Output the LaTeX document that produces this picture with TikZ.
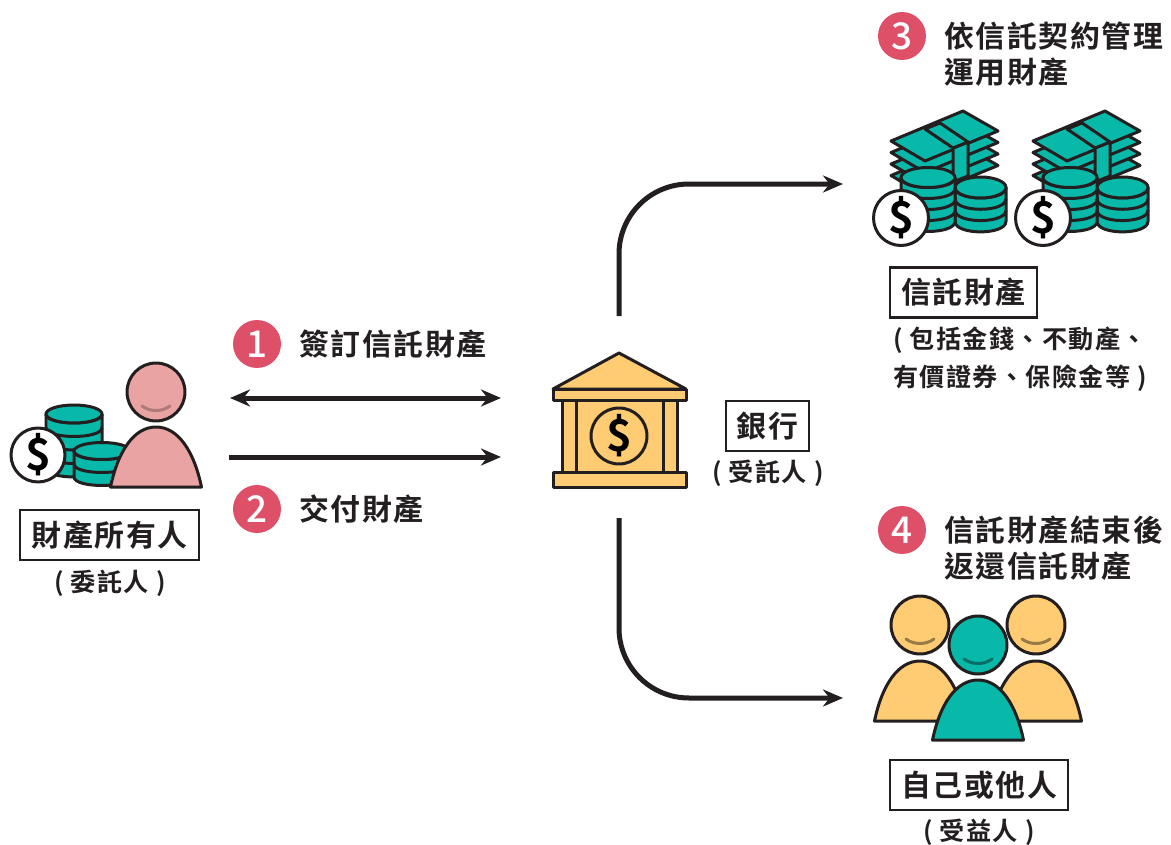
\documentclass[tikz,border=0pt]{standalone}
\usepackage{fontspec}
\setmainfont{Noto Sans CJK TC Bold}[LetterSpace=5.5]
\newfontfamily\digitfont{Noto Sans CJK TC Medium}
\newfontfamily\dollarfont{Noto Sans CJK TC Bold}
\usetikzlibrary{arrows.meta}
\definecolor{inkline}{HTML}{231F20}
\definecolor{teal}{HTML}{08B8A8}
\definecolor{gold}{HTML}{FFCB73}
\definecolor{pinkskin}{HTML}{EAA3A3}
\definecolor{stepred}{HTML}{DE5068}
\tikzset{
	icon/.style={draw=inkline, line width=.06cm, line join=round},
	flow/.style={draw=inkline, line width=.1cm, -{Stealth[length=.4cm,width=.34cm]}},
	stepdot/.style={circle, fill=stepred, minimum size=.96cm, inner sep=0pt, text=white, font=\digitfont\fontsize{21}{25}\selectfont},
	titletext/.style={align=left, anchor=west, inner sep=0pt, text=inkline, font=\fontsize{17}{20.4}\selectfont},
	namebox/.style={draw=inkline, line width=.055cm, inner sep=0pt, minimum height=1cm, text=inkline, font=\fontsize{17}{20.4}\selectfont},
	subtext/.style={align=left, inner sep=0pt, text=inkline, font=\fontsize{14.3}{21.5}\selectfont},
	coinmark/.style={inner sep=0pt, text=black, font=\dollarfont\fontsize{25}{30}\selectfont}
}
% #1 x, #2 y of the top disc, #3 rx, #4 ry, #5 band step, #6 last band
\newcommand{\coinstack}[6]{
	\begin{scope}[shift={(#1,#2)}]
	\draw [icon, fill=teal] (-#3,0) -- (-#3,#5*#6) .. controls (-#3,#5*#6+1.33*#4) and (#3,#5*#6+1.33*#4) .. (#3,#5*#6) -- (#3,0) -- cycle;
	\foreach \band in {1,...,#6} {
		\draw [icon] (-#3,#5*\band-#5) .. controls (-#3,#5*\band-#5+1.33*#4) and (#3,#5*\band-#5+1.33*#4) .. (#3,#5*\band-#5);
	}
	\draw [icon, fill=teal] (0,0) ellipse [x radius=#3*.02cm, y radius=#4*.02cm];
	\end{scope}
}
% #1 name, #2 x, #3 y, #4 radius
\newcommand{\dollarcoin}[4]{
	\draw [icon, fill=white] (#2,#3) circle [radius=#4*.02cm];
	\node [coinmark] (#1) at (#2,#3) {\$};
}
% #1 x of the head, #2 y of the head, #3 fill, #4 smile colour, #5 y of the base
\newcommand{\person}[5]{
	\draw [icon, fill=#3] (#1-45.5,#5) .. controls (#1-38,#5-36) and (#1-22,#5-60) .. (#1,#5-60) .. controls (#1+22,#5-60) and (#1+38,#5-36) .. (#1+45.5,#5) -- cycle;
	\draw [icon, fill=#3] (#1,#2) circle [radius=.58cm];
	\draw [draw=#4, line width=.06cm, line cap=round] (#1-14,#2+14) .. controls (#1-6,#2+20) and (#1+6,#2+20) .. (#1+14,#2+14);
}
% #1 shift in x
\newcommand{\moneypile}[1]{
	\begin{scope}[shift={(#1,0)}]
	\foreach \layer in {34.5,23,11.5,0} {
		\draw [icon, fill=teal] (891,141+\layer) -- (963,111+\layer) -- (998,131+\layer) -- (925,161+\layer) -- cycle;
	}
	\draw [icon, fill=teal] (953,148) -- (968,142) -- (968,176) -- (953,182) -- cycle;
	\draw [icon, fill=teal] (925,129) -- (940,123) -- (968,142) -- (953,148) -- cycle;
	\coinstack{980.5}{187.5}{25.5}{10.5}{11.3}{3}
	\coinstack{928}{177.5}{27}{10}{11}{4}
	\end{scope}
}
\begin{document}
\begin{tikzpicture}[x=.02cm, y=-.02cm]
	\useasboundingbox (0,0) rectangle (1171,845);

	% owner
	\coinstack{74}{414}{28}{9}{13.5}{4}
	\coinstack{102}{451}{28}{8.5}{13}{2}
	\dollarcoin{ownerCoin}{38}{455}{27}
	\person{156}{392}{pinkskin}{pinkskin!75!black}{487}
	\node [namebox, minimum width=3.58cm] (ownerBox) at (109.5,535) {財產所有人};
	\node [subtext] (ownerSub) at (110,583) {( 委託人 )};

	% bank
	\draw [icon, fill=gold] (553,389) -- (619,353) -- (686,389) -- cycle;
	\draw [icon, fill=gold] (576,400) rectangle (663,472);
	\draw [icon, fill=gold] (562,400) rectangle (576,472);
	\draw [icon, fill=gold] (663,400) rectangle (677,472);
	\draw [icon, fill=gold] (553,389) rectangle (686,400);
	\draw [icon, fill=gold] (553,472) rectangle (686,487);
	\draw [icon, fill=gold] (619,436) circle [radius=.56cm];
	\node [coinmark] (bankCoin) at (619,436) {\$};
	\node [namebox, minimum width=1.66cm] (bankBox) at (767.5,426) {銀行};
	\node [subtext] (bankSub) at (768,473) {( 受託人 )};

	% steps
	\node [stepdot] (stepOne) at (257,344) {1};
	\node [titletext] (stepOneText) at (299,344) {簽訂信託財產};
	\node [stepdot] (stepTwo) at (257,509) {2};
	\node [titletext] (stepTwoText) at (299,509) {交付財產};
	\node [stepdot] (stepThree) at (902,36) {3};
	\node [titletext] (stepThreeText) at (944,54) {依信託契約管理\\運用財產};
	\node [stepdot] (stepFour) at (902,530) {4};
	\node [titletext] (stepFourText) at (944,548) {信託財產結束後\\返還信託財產};

	% trust property
	\moneypile{0}
	\moneypile{142}
	\dollarcoin{pileCoinA}{901}{218}{27.5}
	\dollarcoin{pileCoinB}{1043}{218}{27.5}
	\node [namebox, minimum width=2.94cm] (trustBox) at (963.5,292.5) {信託財產};
	\node [subtext, anchor=west] (trustSub) at (893,359) {( 包括金錢、不動產、\\有價證券、保險金等 )};

	% beneficiaries
	\person{920}{625}{gold}{gold!60!black}{721}
	\person{1036}{625}{gold}{gold!60!black}{721}
	\person{978}{645}{teal}{teal!60!black}{740}
	\node [namebox, minimum width=3.56cm] (benefitBox) at (979,785) {自己或他人};
	\node [subtext] (benefitSub) at (979,832) {( 受益人 )};

	% connectors
	\coordinate (signL) at (230,398);
	\coordinate (signR) at (501,398);
	\coordinate (giveL) at (229,457);
	\coordinate (giveR) at (501,457);
	\coordinate (bankUp) at (619,316);
	\coordinate (pileIn) at (843,184);
	\coordinate (bankDown) at (619,518);
	\coordinate (groupIn) at (843,698);
	\draw [flow, {Stealth[length=.4cm,width=.34cm]}-{Stealth[length=.4cm,width=.34cm]}] (signL) -- (signR);
	\draw [flow] (giveL) -- (giveR);
	\draw [flow, rounded corners=1.4cm] (bankUp) |- (pileIn);
	\draw [flow, rounded corners=1.4cm] (bankDown) |- (groupIn);
\end{tikzpicture}
\end{document}
